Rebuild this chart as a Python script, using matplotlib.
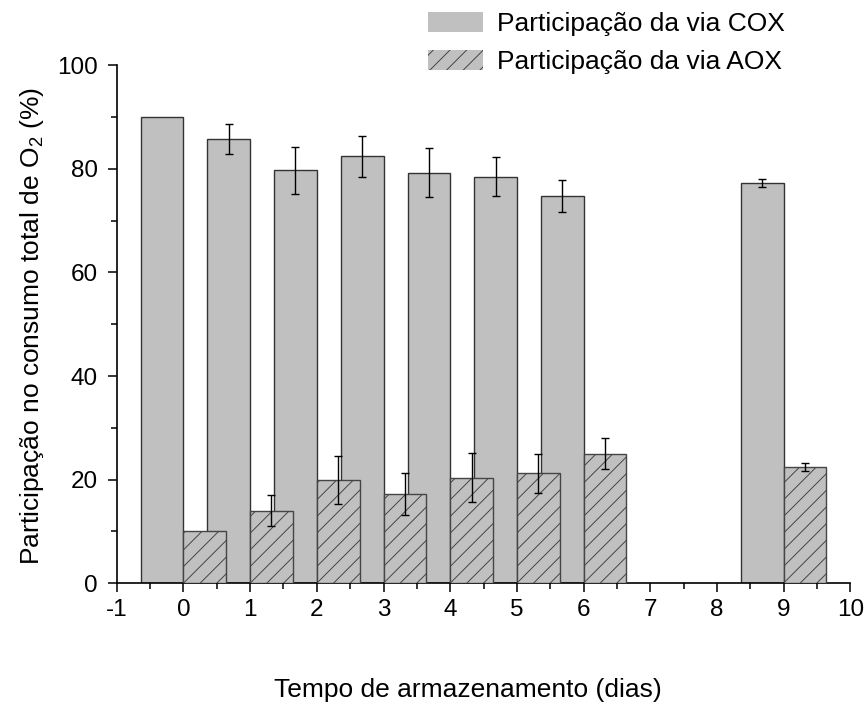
import numpy as np
import matplotlib
matplotlib.use('Agg')
import matplotlib.pyplot as plt
from matplotlib.patches import Patch
from matplotlib.ticker import MultipleLocator

plt.rcParams['font.family'] = ['Liberation Sans', 'DejaVu Sans']
plt.rcParams['mathtext.fontset'] = 'custom'
plt.rcParams['mathtext.rm'] = 'Liberation Sans'
plt.rcParams['axes.unicode_minus'] = False
plt.rcParams['hatch.color'] = '#454545'
plt.rcParams['hatch.linewidth'] = 0.7

# dados
dias = [0, 1, 2, 3, 4, 5, 6, 9]
cox = [90.0, 85.8, 79.7, 82.4, 79.3, 78.5, 74.8, 77.3]
cox_err = [0.0, 2.9, 4.6, 4.05, 4.7, 3.8, 3.05, 0.75]
aox = [10.0, 14.0, 20.0, 17.3, 20.4, 21.2, 25.0, 22.5]
aox_err = [0.0, 3.0, 4.6, 4.05, 4.8, 3.85, 3.0, 0.75]

lbl_cox = 'Participação da via COX'
lbl_aox = 'Participação da via AOX'

w = 0.64
cinza = '#c0c0c0'
x = np.array(dias, dtype=float)

fig = plt.figure(figsize=(8.65, 7.10), dpi=100)
ax = fig.add_axes([0.135, 0.1785, 0.848, 0.7295])

ax.bar(x, cox, width=-w, align='edge', color=cinza, edgecolor='#333333',
       linewidth=1.0, zorder=2)
ax.bar(x, aox, width=w, align='edge', color=cinza, edgecolor='#454545',
       linewidth=1.0, hatch='//', zorder=3)

# barras de erro (sem erro no dia 0)
m = np.array(cox_err) > 0
ax.errorbar(x[m] - w / 2, np.array(cox)[m], yerr=np.array(cox_err)[m], fmt='none',
            ecolor='black', elinewidth=1.0, capsize=3, capthick=1.0, zorder=4)
m = np.array(aox_err) > 0
ax.errorbar(x[m] + w / 2, np.array(aox)[m], yerr=np.array(aox_err)[m], fmt='none',
            ecolor='black', elinewidth=1.0, capsize=3, capthick=1.0, zorder=4)

ax.set_xlim(-1, 10)
ax.set_ylim(0, 100)
ax.xaxis.set_major_locator(MultipleLocator(1))
ax.xaxis.set_minor_locator(MultipleLocator(0.5))
ax.yaxis.set_major_locator(MultipleLocator(20))
ax.yaxis.set_minor_locator(MultipleLocator(10))

for s in ['top', 'right']:
    ax.spines[s].set_visible(False)
for s in ['left', 'bottom']:
    ax.spines[s].set_linewidth(1.2)
ax.tick_params(which='major', direction='out', length=6.5, width=1.1, labelsize=17.5)
ax.tick_params(which='minor', direction='out', length=4, width=1.1)
ax.tick_params(axis='y', which='major', pad=7)
ax.tick_params(axis='x', which='major', pad=5)

ax.set_xlabel('Tempo de armazenamento (dias)', fontsize=19)
ax.xaxis.set_label_coords(0.478, -0.182)
ax.set_ylabel('Participação no consumo total de O$_\\mathrm{2}$ (%)', fontsize=19)
ax.yaxis.set_label_coords(-0.097, 0.496)

handles = [Patch(facecolor=cinza, edgecolor=None, linewidth=0),
           Patch(facecolor=cinza, edgecolor=None, linewidth=0, hatch='//')]
fig.legend(handles, [lbl_cox, lbl_aox], loc='upper left',
           bbox_to_anchor=(428 / 865, 1 - 12 / 710),
           frameon=False, fontsize=19, handlelength=2.08, handleheight=0.76,
           handletextpad=0.53, labelspacing=0.53, borderpad=0, borderaxespad=0)

fig.savefig('out.png', dpi=100)
